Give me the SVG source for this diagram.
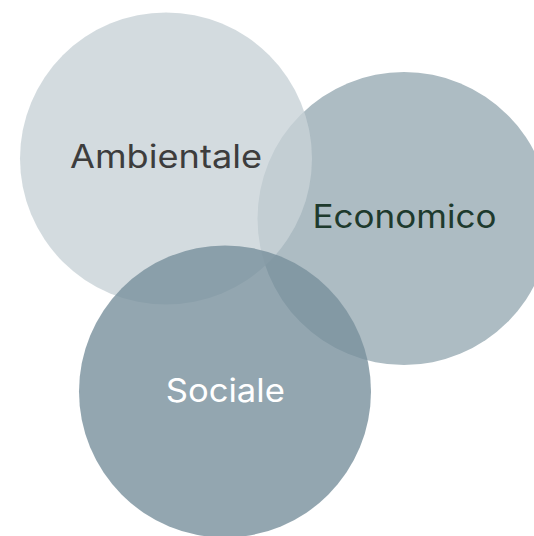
<svg xmlns="http://www.w3.org/2000/svg" width="534" height="536" viewBox="0 0 534 536">
<style>
.lbl{font-family:"Inter","Open Sans","Liberation Sans",sans-serif;font-size:32px;font-weight:400;text-anchor:middle}
</style>
<rect width="534" height="536" fill="#ffffff"/>
<g id="economico">
<circle cx="404" cy="218.5" r="146.5" fill="#adbcc3"/>
</g>
<g id="ambientale">
<circle cx="166" cy="158.5" r="146" fill="rgb(200,210,215)" fill-opacity="0.8"/>
</g>
<g id="sociale">
<circle cx="225" cy="391.5" r="146" fill="rgb(120,144,156)" fill-opacity="0.8"/>
</g>
<g id="labels">
<text class="lbl" x="166" y="168" fill="#3d3d3d" textLength="192" lengthAdjust="spacingAndGlyphs">Ambientale</text>
<text class="lbl" x="404.5" y="227.5" fill="#1e3a2d" textLength="184" lengthAdjust="spacingAndGlyphs">Economico</text>
<text class="lbl" x="225.3" y="402" fill="#ffffff" textLength="119" lengthAdjust="spacingAndGlyphs">Sociale</text>
</g>
<g id="connectors"></g>
</svg>
